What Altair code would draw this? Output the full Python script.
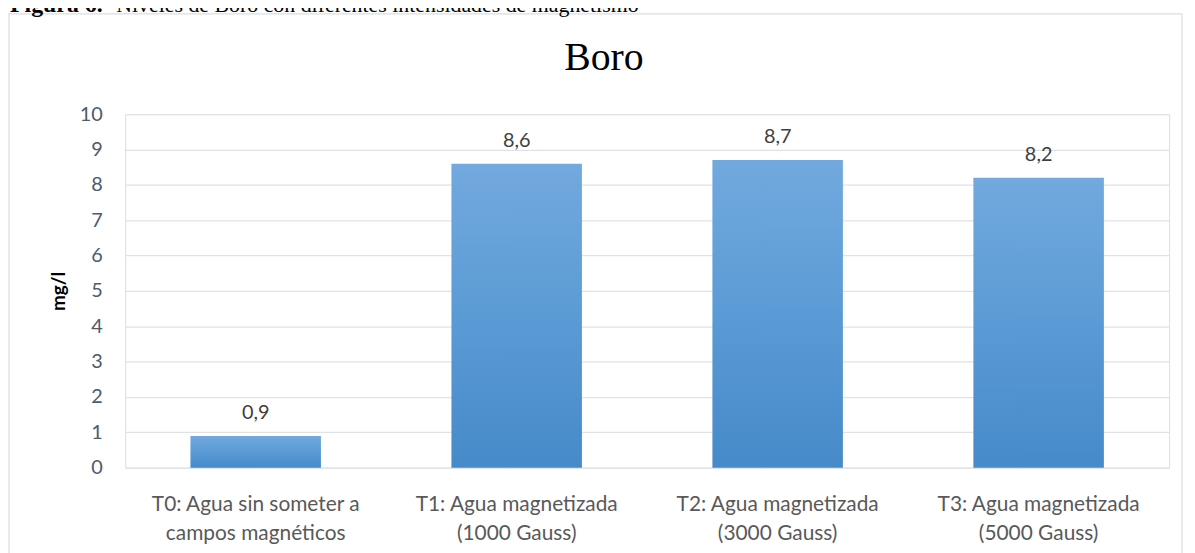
import altair as alt
import pandas as pd

categories = [
    "T0: Agua sin someter a\ncampos magnéticos",
    "T1: Agua magnetizada\n(1000 Gauss)",
    "T2: Agua magnetizada\n(3000 Gauss)",
    "T3: Agua magnetizada\n(5000 Gauss)",
]
values = [0.9, 8.6, 8.7, 8.2]
y_ticks = [0, 1, 2, 3, 4, 5, 6, 7, 8, 9, 10]
chart_title = "Boro"
y_title = "mg/l"
caption_bold = "Figura 6."
caption_rest = "Niveles de Boro con diferentes intensidades de magnetismo"

df = pd.DataFrame({
    "cat": categories,
    "val": values,
    "lbl": [f"{v:.1f}".replace(".", ",") for v in values],
})

W, H = 1051, 356
LABEL_FONT = "Lato"

base = alt.Chart(df)

gradient = alt.Gradient(
    gradient="linear",
    stops=[
        alt.GradientStop(color="#72a9de", offset=0),
        alt.GradientStop(color="#5b9bd5", offset=0.5),
        alt.GradientStop(color="#468ac9", offset=1),
    ],
    x1=0, x2=0, y1=0, y2=1,
)

x_enc = alt.X(
    "cat:N",
    sort=categories,
    scale=alt.Scale(paddingInner=0.5, paddingOuter=0.25),
    axis=alt.Axis(
        title=None,
        labelAngle=0,
        labelExpr="split(datum.label, '\\n')",
        labelFont=LABEL_FONT,
        labelFontSize=21,
        labelColor="#595959",
        labelLineHeight=29,
        labelPadding=26,
        labelBaseline="top",
        labelLimit=0,
        domain=False,
        ticks=False,
        tickSize=0,
    ),
)

y_enc = alt.Y(
    "val:Q",
    scale=alt.Scale(domain=[0, 10], nice=False),
    axis=alt.Axis(
        values=y_ticks,
        title=y_title,
        titleFont=LABEL_FONT,
        titleFontSize=19,
        titleFontWeight="bold",
        titleColor="#000000",
        titleAngle=-90,
        titleX=-67,
        titleY=H / 2,
        titleAlign="center",
        titleBaseline="middle",
        labelFont=LABEL_FONT,
        labelFontSize=20,
        labelColor="#4d5b6d",
        labelPadding=23,
        labelOverlap=False,
        domain=False,
        ticks=False,
        tickSize=0,
        grid=True,
        gridColor="#dfe2e6",
        gridWidth=1.3,
    ),
)

bars = base.mark_bar(color=gradient).encode(x=x_enc, y=y_enc)

labels = base.mark_text(
    font=LABEL_FONT, fontSize=20, color="#404040", baseline="alphabetic", dy=-17
).encode(x=x_enc, y=y_enc, text="lbl:N")

one = alt.Data(values=[{}])

border = alt.Chart(one).mark_rect(
    fill=None, stroke="#d9dde3", strokeWidth=1.2
).encode(
    x=alt.value(-117), x2=alt.value(1064), y=alt.value(-101), y2=alt.value(460)
)

title_txt = alt.Chart(one).mark_text(
    text=chart_title, font="Liberation Serif", fontSize=40, color="#000000",
    align="center", baseline="alphabetic",
).encode(x=alt.value(482), y=alt.value(-44))

cap1 = alt.Chart(one).mark_text(
    text=caption_bold, font="Liberation Serif", fontSize=24, fontWeight="bold",
    color="#000000", align="left", baseline="alphabetic",
).encode(x=alt.value(-116), y=alt.value(-103))

cap2 = alt.Chart(one).mark_text(
    text=caption_rest, font="Liberation Serif", fontSize=22,
    color="#000000", align="left", baseline="alphabetic",
).encode(x=alt.value(-9), y=alt.value(-103))

chart = alt.layer(border, bars, labels, title_txt, cap1, cap2).properties(
    width=W,
    height=H,
    autosize=alt.AutoSizeParams(type="none"),
    padding={"left": 118, "top": 105, "right": 18, "bottom": 84},
).configure_view(stroke=None).configure(background="white")

chart.save("out.html", embed_options={"renderer": "svg", "actions": False})
